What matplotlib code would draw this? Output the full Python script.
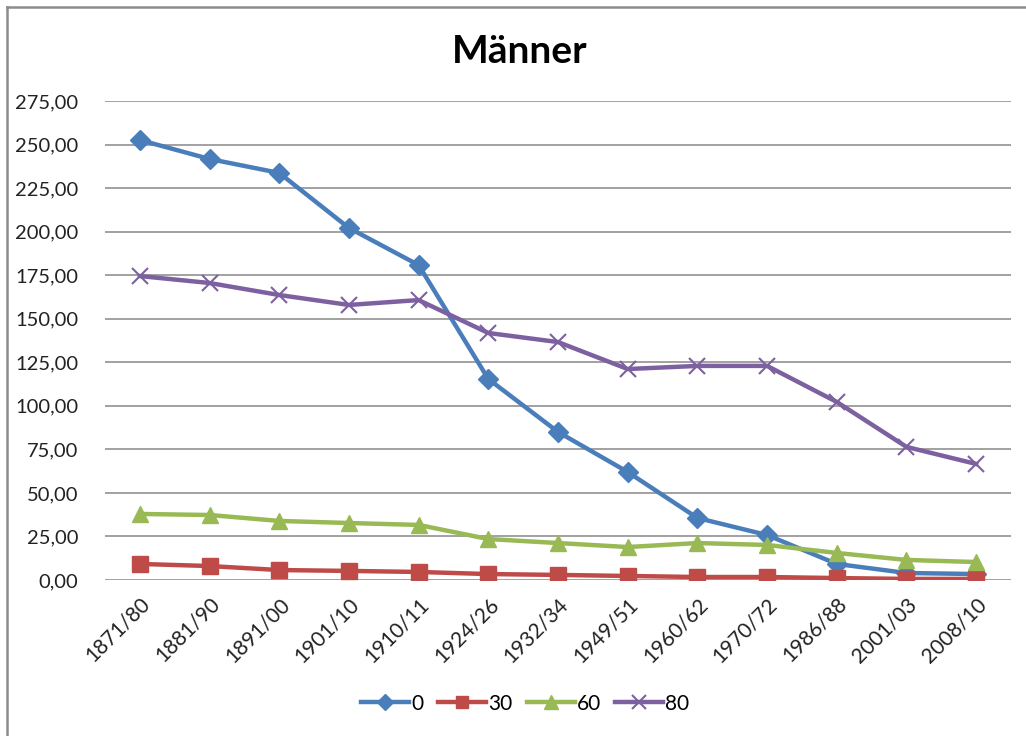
import numpy as np
import matplotlib
matplotlib.use("Agg")
import matplotlib.pyplot as plt
from matplotlib.lines import Line2D

plt.rcParams['font.family'] = ['Lato', 'DejaVu Sans']

# Zeiträume (Sterbetafeln)
perioden = ['1871/80', '1881/90', '1891/00', '1901/10', '1910/11', '1924/26',
            '1932/34', '1949/51', '1960/62', '1970/72', '1986/88', '2001/03',
            '2008/10']

# Werte je Alter
alter_0 = [252.6, 241.7, 233.7, 202.1, 180.8, 115.4, 85.0, 62.0, 35.6, 25.8,
           9.2, 4.0, 3.4]
alter_30 = [9.2, 8.0, 5.7, 5.2, 4.6, 3.4, 2.9, 2.3, 1.7, 1.7, 1.1, 0.6, 0.6]
alter_60 = [37.9, 37.3, 33.9, 32.7, 31.6, 23.5, 21.2, 18.9, 21.2, 20.1, 15.5,
            11.5, 10.3]
alter_80 = [174.5, 170.5, 163.6, 157.9, 160.7, 141.8, 136.6, 121.1, 122.9,
            122.9, 102.2, 76.4, 66.6]

serien = [('0', alter_0, '#4A7EBB', 'D', 10),
          ('30', alter_30, '#BE4B48', 's', 11),
          ('60', alter_60, '#98B954', '^', 12),
          ('80', alter_80, '#7D60A0', 'x', 12)]

fig = plt.figure(figsize=(10.26, 7.36), dpi=100)
ax = fig.add_axes([0.1023, 0.212, 0.8831, 0.6508])

x = np.arange(len(perioden))
for name, werte, farbe, marker, ms in serien:
    if marker == 'x':
        ax.plot(x, werte, color=farbe, lw=3.2, marker=marker, ms=ms,
                mew=1.5, label=name)
    else:
        ax.plot(x, werte, color=farbe, lw=3.2, marker=marker, ms=ms,
                mec=farbe, label=name)

ax.set_xlim(-0.5, len(perioden) - 0.5)
ax.set_ylim(0, 275)
ax.set_yticks(np.arange(0, 276, 25))
ax.set_yticklabels([f'{v:.2f}'.replace('.', ',') for v in np.arange(0, 276, 25)])
ax.set_xticks(x)
ax.set_xticklabels(perioden, rotation=45, ha='right', va='top',
                   rotation_mode='anchor')
ax.tick_params(axis='y', length=0, pad=19, labelsize=14.5, colors='#222222')
ax.tick_params(axis='x', length=0, pad=10, labelsize=15, colors='#222222')
ax.yaxis.grid(True, color='#9A9A9A', lw=1.3)
ax.set_axisbelow(True)
for s in ax.spines.values():
    s.set_visible(False)

fig.text(0.507, 0.93, 'Männer', ha='center', va='center',
         fontsize=28, fontweight='bold')

fig.legend(loc='center', bbox_to_anchor=(0.512, 0.044), ncol=4, frameon=False,
           fontsize=15, handlelength=2.3, columnspacing=0.7,
           handletextpad=0.1, markerscale=0.8)

# Rahmen des Diagramms
fig.add_artist(Line2D([7 / 1026, 7 / 1026], [0, 1 - 7 / 736],
                      transform=fig.transFigure, color='#8C8C8C', lw=1.8))
fig.add_artist(Line2D([7 / 1026, 1], [1 - 7 / 736, 1 - 7 / 736],
                      transform=fig.transFigure, color='#8C8C8C', lw=1.8))

fig.savefig('out.png', dpi=100)
